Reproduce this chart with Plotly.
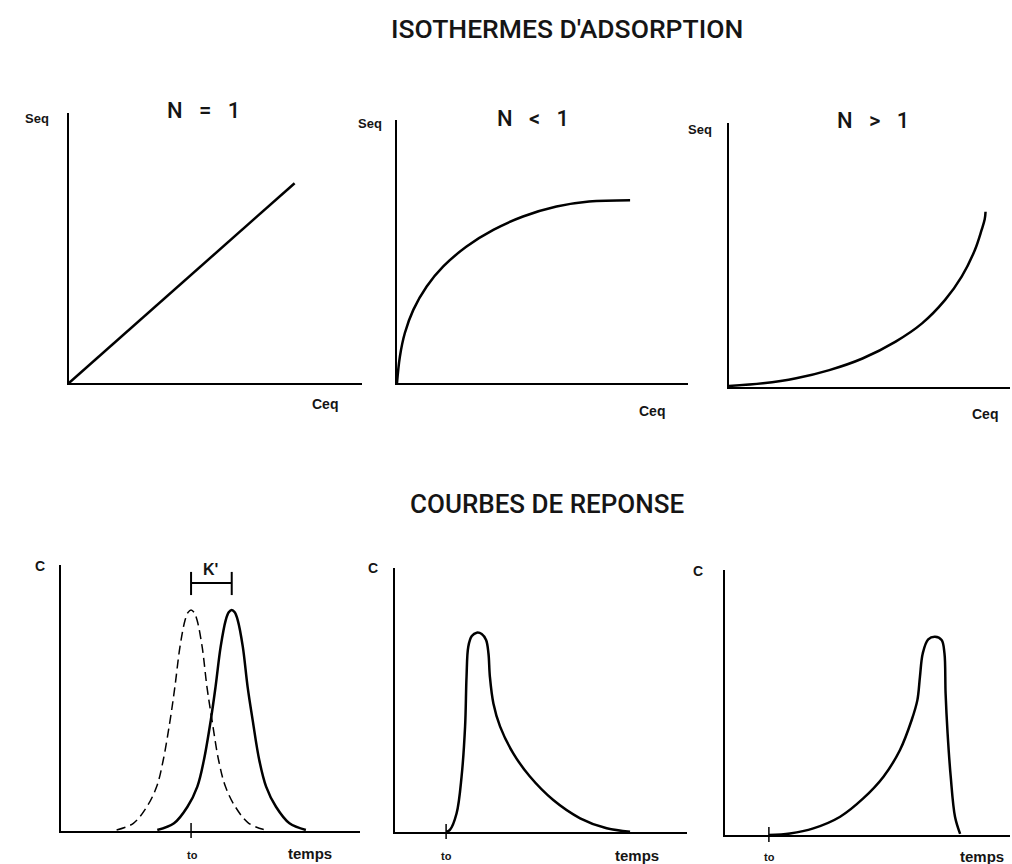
import plotly.graph_objects as go

W, H = 1012, 864

# --- Isothermes d'adsorption (arbitrary units, 0-10) ---
ceq_n1 = [0, 7.7]
seq_n1 = [0, 7.4]

ceq_nlt1 = [0, 0.10, 0.27, 0.56, 1.02, 1.59, 2.39, 3.31, 4.33, 5.48, 6.6, 8.01]
seq_nlt1 = [0, 1.01, 1.90, 2.78, 3.67, 4.43, 5.19, 5.82, 6.33, 6.71, 6.90, 6.95]

ceq_ngt1 = [0, 1.21, 2.39, 3.57, 4.75, 5.93, 6.87, 7.69, 8.28, 8.75, 8.99, 9.10, 9.13]
seq_ngt1 = [0.04, 0.14, 0.33, 0.64, 1.08, 1.72, 2.41, 3.30, 4.18, 5.19, 5.95, 6.35, 6.64]

# --- Courbes de reponse ---
t_ref = [1.86, 2.42, 2.87, 3.20, 3.42, 3.65, 3.81, 3.98, 4.15, 4.25, 4.35,
         4.45, 4.55, 4.72, 4.88, 5.05, 5.27, 5.50, 5.83, 6.28, 6.83]
c_ref = [0.04, 0.29, 0.91, 1.67, 2.67, 4.17, 5.43, 6.93, 7.93, 8.22, 8.31,
         8.22, 7.93, 6.93, 5.43, 4.17, 2.67, 1.67, 0.91, 0.29, 0.04]
t_n1 = [3.22, 3.78, 4.23, 4.56, 4.78, 5.01, 5.17, 5.34, 5.51, 5.61, 5.71,
        5.81, 5.91, 6.08, 6.24, 6.41, 6.63, 6.86, 7.19, 7.64, 8.19]
c_n1 = [0.04, 0.29, 0.91, 1.67, 2.67, 4.17, 5.43, 6.93, 7.93, 8.22, 8.31,
        8.22, 7.93, 6.93, 5.43, 4.17, 2.67, 1.67, 0.91, 0.29, 0.04]

t_nlt1 = [1.75, 1.88, 2.11, 2.28, 2.40, 2.45, 2.51, 2.63, 2.80, 2.97, 3.12,
          3.20, 3.25, 3.37, 3.60, 4.05, 4.62, 5.42, 6.34, 7.25, 8.05]
c_nlt1 = [0.01, 0.08, 0.71, 2.10, 3.99, 5.88, 7.02, 7.42, 7.55, 7.50, 7.27,
          6.77, 5.88, 4.87, 3.99, 2.98, 2.10, 1.21, 0.52, 0.14, 0.01]

t_ngt1 = [1.54, 2.28, 3.10, 4.04, 4.85, 5.56, 6.14, 6.55, 6.75, 6.84, 6.94,
          7.13, 7.37, 7.60, 7.70, 7.74, 7.81, 7.92, 8.07, 8.25]
c_ngt1 = [0, 0.06, 0.25, 0.69, 1.38, 2.20, 3.21, 4.34, 5.09, 5.97, 6.86,
          7.38, 7.48, 7.36, 6.86, 5.35, 3.84, 2.20, 0.69, 0.04]

t0 = [4.35, 1.75, 1.54]          # position of "to" on each response panel
k_bracket = [4.35, 5.71]         # peak of reference vs retained peak
k_levels = [8.87, 9.32, 9.74]

# panel frames in pixels: (left, right, top, bottom)
frames = [
    (69, 362, 113, 383), (397, 688, 120, 383), (729, 1010, 123, 387),
    (61, 360, 565, 831), (395, 687, 568, 832), (725, 1010, 570, 835),
]

FONT = "Liberation Sans"
fig = go.Figure()

solid = dict(color="black", width=2.5)
curves = [
    (ceq_n1, seq_n1, "linear"), (ceq_nlt1, seq_nlt1, "spline"),
    (ceq_ngt1, seq_ngt1, "spline"), (t_n1, c_n1, "spline"),
    (t_nlt1, c_nlt1, "spline"), (t_ngt1, c_ngt1, "spline"),
]
for i, (x, y, shape) in enumerate(curves, start=1):
    fig.add_trace(go.Scatter(x=x, y=y, mode="lines", line=dict(shape=shape, smoothing=1, **solid),
                             xaxis=f"x{i}", yaxis=f"y{i}", showlegend=False, hoverinfo="skip"))

# dashed reference peak
fig.add_trace(go.Scatter(x=t_ref, y=c_ref, mode="lines",
                         line=dict(shape="spline", smoothing=1, color="black", width=1.5, dash="9px,5px"),
                         xaxis="x4", yaxis="y4", showlegend=False, hoverinfo="skip"))

# K' bracket
br = dict(color="black", width=2)
fig.add_trace(go.Scatter(x=k_bracket, y=[k_levels[1]] * 2, mode="lines", line=br,
                         xaxis="x4", yaxis="y4", showlegend=False, hoverinfo="skip"))
for xk in k_bracket:
    fig.add_trace(go.Scatter(x=[xk, xk], y=[k_levels[0], k_levels[2]], mode="lines", line=br,
                             xaxis="x4", yaxis="y4", showlegend=False, hoverinfo="skip"))

layout = dict(
    width=W, height=H, margin=dict(l=0, r=0, t=0, b=0),
    paper_bgcolor="white", plot_bgcolor="white", showlegend=False,
    font=dict(family=FONT, color="black"),
)
for i, (l, r, t, b) in enumerate(frames, start=1):
    ax = dict(range=[0, 10], showline=True, linecolor="black", linewidth=2,
              showgrid=False, zeroline=False, showticklabels=False, ticks="", fixedrange=True)
    layout[f"xaxis{i}" if i > 1 else "xaxis"] = dict(ax, domain=[l / W, r / W], anchor=f"y{i}")
    layout[f"yaxis{i}" if i > 1 else "yaxis"] = dict(ax, domain=[1 - b / H, 1 - t / H], anchor=f"x{i}")
fig.update_layout(**layout)

# "to" ticks crossing the time axis
for i, x0 in zip([4, 5, 6], t0):
    b = frames[i - 1][3]
    fig.add_shape(type="line", xref=f"x{i}", yref="paper", x0=x0, x1=x0,
                  y0=1 - (b + 7) / H, y1=1 - (b - 8) / H, line=dict(color="black", width=1.5))


def label(text, px, py, size, weight="bold", family=FONT):
    fig.add_annotation(text=text, x=px / W, y=1 - py / H,
                       xref="paper", yref="paper", xanchor="center", yanchor="middle",
                       showarrow=False,
                       font=dict(family=family, size=size, color="#151515", weight=weight))


# headings in a medium weight, like the printed original
label("ISOTHERMES D'ADSORPTION", 567, 28, 26.5, weight=500, family="Roboto")
label("COURBES DE REPONSE", 547, 504, 26, weight=500, family="Roboto")

sp = "&nbsp;&nbsp;&nbsp;"
label(f"N{sp}={sp}1", 203, 111, 22, weight=500, family="Roboto")
label(f"N{sp}&lt;{sp}1", 533, 118, 22, weight=500, family="Roboto")
label(f"N{sp}&gt;{sp}1", 873, 121, 22, weight=500, family="Roboto")

label("Seq", 37, 118, 13)
label("Seq", 370, 124, 13)
label("Seq", 700, 129, 13)
label("Ceq", 325, 404, 14)
label("Ceq", 652, 411, 14)
label("Ceq", 985, 414, 14)

label("C", 40, 566, 14)
label("C", 373, 568, 14)
label("C", 698, 571, 14)
label("K'", 210, 569, 16)

label("to", 192, 855, 11)
label("to", 446, 856, 11)
label("to", 769, 857, 11)
label("temps", 310, 853, 15)
label("temps", 637, 855, 15)
label("temps", 982, 856, 15)

# the page body has a default 8px margin; drop it so the figure sits at the window origin
fig.write_html("out.html", config={"displayModeBar": False},
               post_script="document.body.style.margin = '0';")
